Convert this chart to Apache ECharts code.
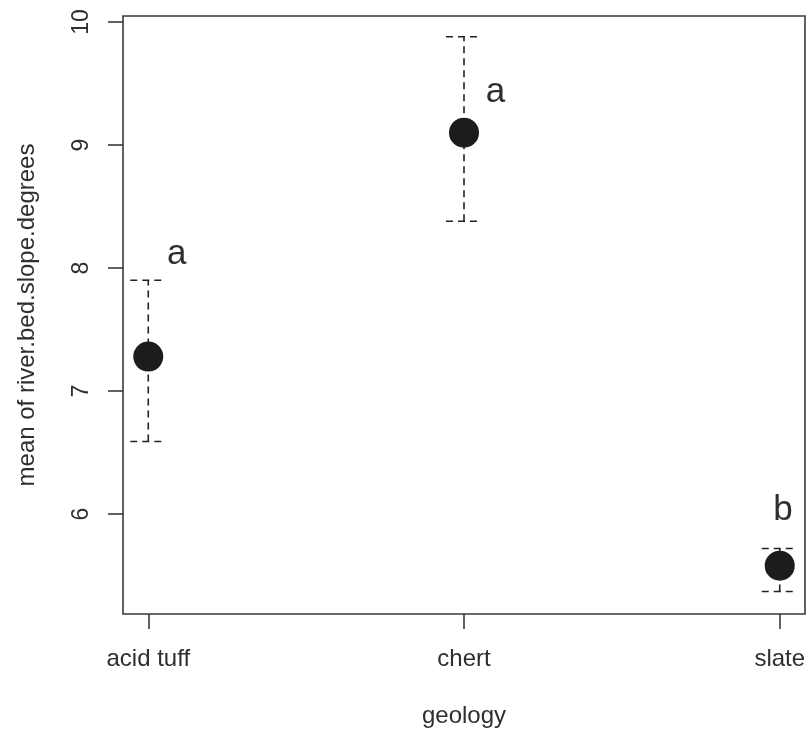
<!DOCTYPE html>
<html>
<head>
<meta charset="utf-8">
<script src="https://cdn.jsdelivr.net/npm/echarts@6/dist/echarts.min.js"></script>
<style>
  html, body { margin: 0; padding: 0; background: #fff; }
  #chart { width: 810px; height: 734px; }
</style>
</head>
<body>
<div id="chart"></div>
<script>
// Mean river-bed slope (degrees) by geology, with error bars and group letters
const categories = ['acid tuff', 'chert', 'slate'];
const means = [7.28, 9.10, 5.58];
const upper = [7.90, 9.88, 5.72];
const lower = [6.59, 8.38, 5.37];
const groupLetters = ['a', 'a', 'b'];
const letterX = [1.09, 2.10, 3.01];
const letterY = [8.11, 9.43, 6.03];
const yTicks = [6, 7, 8, 9, 10];

const FONT = 'Liberation Sans, Arial, sans-serif';
const INK = '#2f2f2f';

const xPos = categories.map((c, i) => i + 1);

const chart = echarts.init(document.getElementById('chart'), null, { renderer: 'canvas' });

const option = {
  animation: false,
  backgroundColor: '#fff',
  grid: {
    left: 123, right: 5, top: 16, bottom: 120,
    show: true, borderColor: '#3a3a3a', borderWidth: 1.6, backgroundColor: 'transparent'
  },
  xAxis: {
    type: 'value',
    min: 0.92, max: 3.08,
    name: 'geology',
    nameLocation: 'middle',
    nameGap: 90,
    nameTextStyle: { fontFamily: FONT, fontSize: 24, color: INK },
    axisLine: { show: false },
    splitLine: { show: false },
    axisTick: {
      show: true, inside: false, length: 15, customValues: xPos,
      lineStyle: { color: '#3a3a3a', width: 1.6 }
    },
    axisLabel: {
      show: true, customValues: xPos, margin: 33,
      fontFamily: FONT, fontSize: 24, color: INK,
      formatter: v => categories[Math.round(v) - 1] || ''
    }
  },
  yAxis: {
    type: 'value',
    min: 5.187, max: 10.049,
    name: 'mean of river.bed.slope.degrees',
    nameLocation: 'middle',
    nameGap: 84,
    nameRotate: 90,
    nameTextStyle: { fontFamily: FONT, fontSize: 24, color: INK },
    axisLine: { show: false },
    splitLine: { show: false },
    axisTick: {
      show: true, inside: false, length: 15, customValues: yTicks,
      lineStyle: { color: '#3a3a3a', width: 1.6 }
    },
    axisLabel: {
      show: true, customValues: yTicks, margin: 30, rotate: 90,
      fontFamily: FONT, fontSize: 23, color: INK,
      formatter: v => String(v)
    }
  },
  series: [
    {
      // dashed error bars with dashed caps
      type: 'custom',
      data: xPos.map((x, i) => [x, lower[i], upper[i]]),
      renderItem: function (params, api) {
        const x = api.value(0);
        const lo = api.coord([x, api.value(1)]);
        const hi = api.coord([x, api.value(2)]);
        const half = 18;
        const style = { stroke: '#222', lineWidth: 1.6, lineDash: [7, 5], fill: null };
        return {
          type: 'group',
          children: [
            { type: 'line', shape: { x1: lo[0], y1: lo[1], x2: hi[0], y2: hi[1] }, style: style },
            { type: 'line', shape: { x1: hi[0] - half, y1: hi[1], x2: hi[0] + half, y2: hi[1] }, style: style },
            { type: 'line', shape: { x1: lo[0] - half, y1: lo[1], x2: lo[0] + half, y2: lo[1] }, style: style }
          ]
        };
      },
      z: 2
    },
    {
      type: 'scatter',
      data: xPos.map((x, i) => [x, means[i]]),
      symbol: 'circle',
      symbolSize: 30,
      itemStyle: { color: '#1c1c1c', opacity: 1 },
      z: 3
    },
    {
      // group letters
      type: 'custom',
      data: letterX.map((x, i) => [x, letterY[i], i]),
      renderItem: function (params, api) {
        const p = api.coord([api.value(0), api.value(1)]);
        return {
          type: 'text',
          x: p[0], y: p[1],
          style: {
            text: groupLetters[api.value(2)],
            fontFamily: FONT, fontSize: 35, fill: INK,
            align: 'center', verticalAlign: 'middle'
          }
        };
      },
      silent: true,
      z: 4
    }
  ]
};

chart.setOption(option);
</script>
</body>
</html>
